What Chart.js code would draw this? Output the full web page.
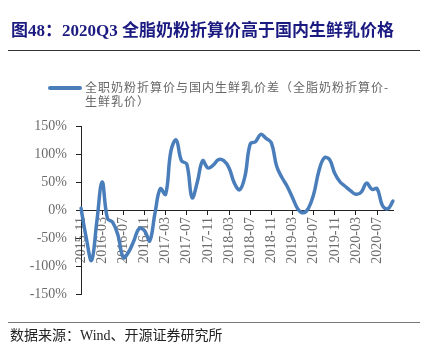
<!DOCTYPE html>
<html>
<head>
<meta charset="utf-8">
<script src="https://cdn.jsdelivr.net/npm/chart.js@4/dist/chart.umd.min.js"></script>
<style>
  html, body { margin: 0; padding: 0; background: #fff; }
  body { width: 428px; height: 362px; position: relative; overflow: hidden; }
  #title {
    position: absolute; left: 11px; top: 16px;
    font: bold 17px "Liberation Serif", "Noto Sans CJK SC", serif;
    color: #1a1a80; white-space: nowrap;
  }
  #rule1 { position: absolute; left: 8px; right: 8px; top: 50px; height: 1px; background: #333; }
  #legend {
    position: absolute; left: 48px; top: 80px;
    font: 12px "Noto Sans CJK SC", sans-serif; color: #666;
    letter-spacing: 1px; line-height: 14px;
  }
  #legend .swatch {
    position: absolute; left: 0; top: 6px; width: 34px; height: 4px;
    border-radius: 2px; background: #4a7ebb;
  }
  #legend .txt { margin-left: 37px; white-space: nowrap; }
  #rule2 { position: absolute; left: 8px; right: 8px; top: 322px; height: 1px; background: #777; }
  #source {
    position: absolute; left: 10px; top: 324px;
    font: 14px "Liberation Serif", "Noto Sans CJK SC", serif; color: #222; white-space: nowrap;
  }
  #diffChart { position: absolute; left: 0; top: 0; }
</style>
</head>
<body>
<canvas id="diffChart" width="428" height="362"></canvas>
<div id="title">图48：2020Q3 全脂奶粉折算价高于国内生鲜乳价格</div>
<div id="rule1"></div>
<div id="legend"><span class="swatch"></span><div class="txt">全职奶粉折算价与国内生鲜乳价差（全脂奶粉折算价-<br>生鲜乳价）</div></div>
<div id="rule2"></div>
<div id="source">数据来源：Wind、开源证券研究所</div>
<script>
// months 2015-11 .. 2020-10
const months = [
    "2015-11", "2015-12", "2016-01", "2016-02", "2016-03", "2016-04", "2016-05", "2016-06",
    "2016-07", "2016-08", "2016-09", "2016-10", "2016-11", "2016-12", "2017-01", "2017-02",
    "2017-03", "2017-04", "2017-05", "2017-06", "2017-07", "2017-08", "2017-09", "2017-10",
    "2017-11", "2017-12", "2018-01", "2018-02", "2018-03", "2018-04", "2018-05", "2018-06",
    "2018-07", "2018-08", "2018-09", "2018-10", "2018-11", "2018-12", "2019-01", "2019-02",
    "2019-03", "2019-04", "2019-05", "2019-06", "2019-07", "2019-08", "2019-09", "2019-10",
    "2019-11", "2019-12", "2020-01", "2020-02", "2020-03", "2020-04", "2020-05", "2020-06",
    "2020-07", "2020-08", "2020-09", "2020-10",
];

// price gap, %
const priceGap = [
    3, -50, -90, -20, 50, -15, -22, -45,
    -85, -75, -55, -33, -37, -55, -5, 38,
    28, 105, 125, 88, 82, 22, 50, 88,
    75, 80, 90, 88, 75, 48, 36, 60,
    118, 122, 135, 128, 120, 78, 58, 42,
    22, 2, -5, 3, 28, 70, 93, 90,
    65, 50, 42, 34, 28, 32, 48, 37,
    38, 8, 2, 16,
];

const yTicks = [-150, -100, -50, 0, 50, 100, 150];

const tickColor = "#6b6b6b";

new Chart(document.getElementById('diffChart'), {
    type: "line",
    data: {
        labels: months,
        datasets: [
            {
                label: "全职奶粉折算价与国内生鲜乳价差（全脂奶粉折算价-生鲜乳价）",
                data: priceGap,
                borderColor: "#4a7ebb",
                borderWidth: 3.5,
                pointRadius: 0,
                tension: 0.4,
                borderCapStyle: "round",
                borderJoinStyle: "round",
                fill: false,
            }
        ]
    },
    options: {
        responsive: false,
        animation: false,
        devicePixelRatio: 1,
        layout: { padding: { top: 126, bottom: 68, left: 0, right: 35 } },
        plugins: {
            legend: { display: false },
            tooltip: { enabled: false },
        },
        scales: {
            x: {
                position: { y: 0 },
                offset: false,
                afterFit: (scale) => { scale.height = 0; },
                border: { display: true, color: "#222", width: 1 },
                grid: { drawOnChartArea: false, tickLength: 4, color: "#222" },
                ticks: {
                    autoSkip: false,
                    minRotation: 90,
                    maxRotation: 90,
                    padding: 3,
                    font: { family: "'Liberation Serif', serif", size: 14 },
                    color: tickColor,
                    callback: function (val, i) {
                        return i % 4 === 0 ? months[i] : null;
                    },
                },
            },
            y: {
                min: -150,
                max: 150,
                afterFit: (scale) => { scale.width = 81; },
                afterBuildTicks: (scale) => { scale.ticks = yTicks.map(v => ({ value: v })); },
                border: { display: true, color: "#222", width: 1 },
                grid: { drawOnChartArea: false, tickLength: 5, color: "#222" },
                ticks: {
                    padding: 9,
                    font: { family: "'Liberation Serif', serif", size: 14 },
                    color: tickColor,
                    callback: (v) => v + "%",
                },
            },
        },
    },
});
</script>
</body>
</html>
